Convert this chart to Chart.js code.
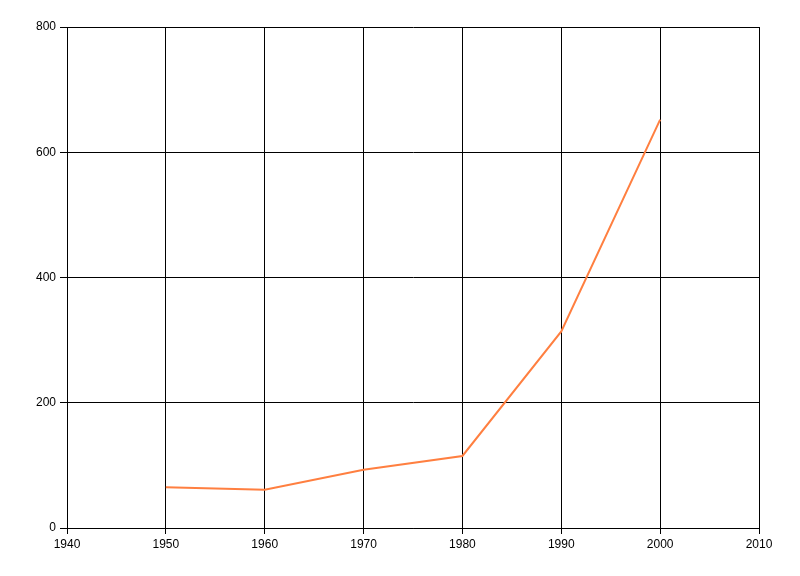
<!DOCTYPE html>
<html>
<head>
<meta charset="utf-8">
<script src="https://cdn.jsdelivr.net/npm/chart.js@4"></script>
<style>
    body { margin: 0; background: #ffffff; }
    #wrap { width: 800px; height: 576px; }
</style>
</head>
<body>
<div id="wrap"><canvas id="lineChart" width="800" height="576"></canvas></div>
<script>
// values
const years = [1950, 1960, 1970, 1980, 1990, 2000];
const values = [65, 61, 93, 115, 314, 652];
const xTicks = [1940, 1950, 1960, 1970, 1980, 1990, 2000, 2010];
const yTicks = [0, 200, 400, 600, 800];

const points = years.map((yr, i) => ({ x: yr, y: values[i] }));

const ctx = document.getElementById('lineChart');

new Chart(ctx, {
    type: 'line',
    data: {
        datasets: [{
            data: points,
            borderColor: '#ff7f40',
            borderWidth: 2,
            pointRadius: 0,
            tension: 0,
            fill: false
        }]
    },
    options: {
        responsive: false,
        animation: false,
        devicePixelRatio: 1,
        layout: {
            padding: { left: 0, top: 27, right: 41, bottom: 0 }
        },
        scales: {
            x: {
                type: 'linear',
                min: xTicks[0],
                max: xTicks[xTicks.length - 1],
                afterBuildTicks: (scale) => {
                    scale.ticks = xTicks.map(v => ({ value: v }));
                },
                afterFit: (scale) => { scale.height = 48; },
                grid: { color: '#000000', lineWidth: 1, tickLength: 6 },
                border: { color: '#000000', width: 1 },
                ticks: {
                    color: '#000000',
                    font: { family: 'Liberation Sans', size: 12 },
                    padding: 3,
                    maxRotation: 0,
                    callback: (v) => String(v)
                }
            },
            y: {
                min: yTicks[0],
                max: yTicks[yTicks.length - 1],
                afterBuildTicks: (scale) => {
                    scale.ticks = yTicks.map(v => ({ value: v }));
                },
                afterFit: (scale) => { scale.width = 67; },
                grid: { color: '#000000', lineWidth: 1, tickLength: 7 },
                border: { color: '#000000', width: 1 },
                ticks: {
                    color: '#000000',
                    font: { family: 'Liberation Sans', size: 12 },
                    padding: 4,
                    callback: (v) => String(v)
                }
            }
        },
        plugins: {
            legend: { display: false },
            tooltip: { enabled: false }
        }
    }
});
</script>
</body>
</html>
